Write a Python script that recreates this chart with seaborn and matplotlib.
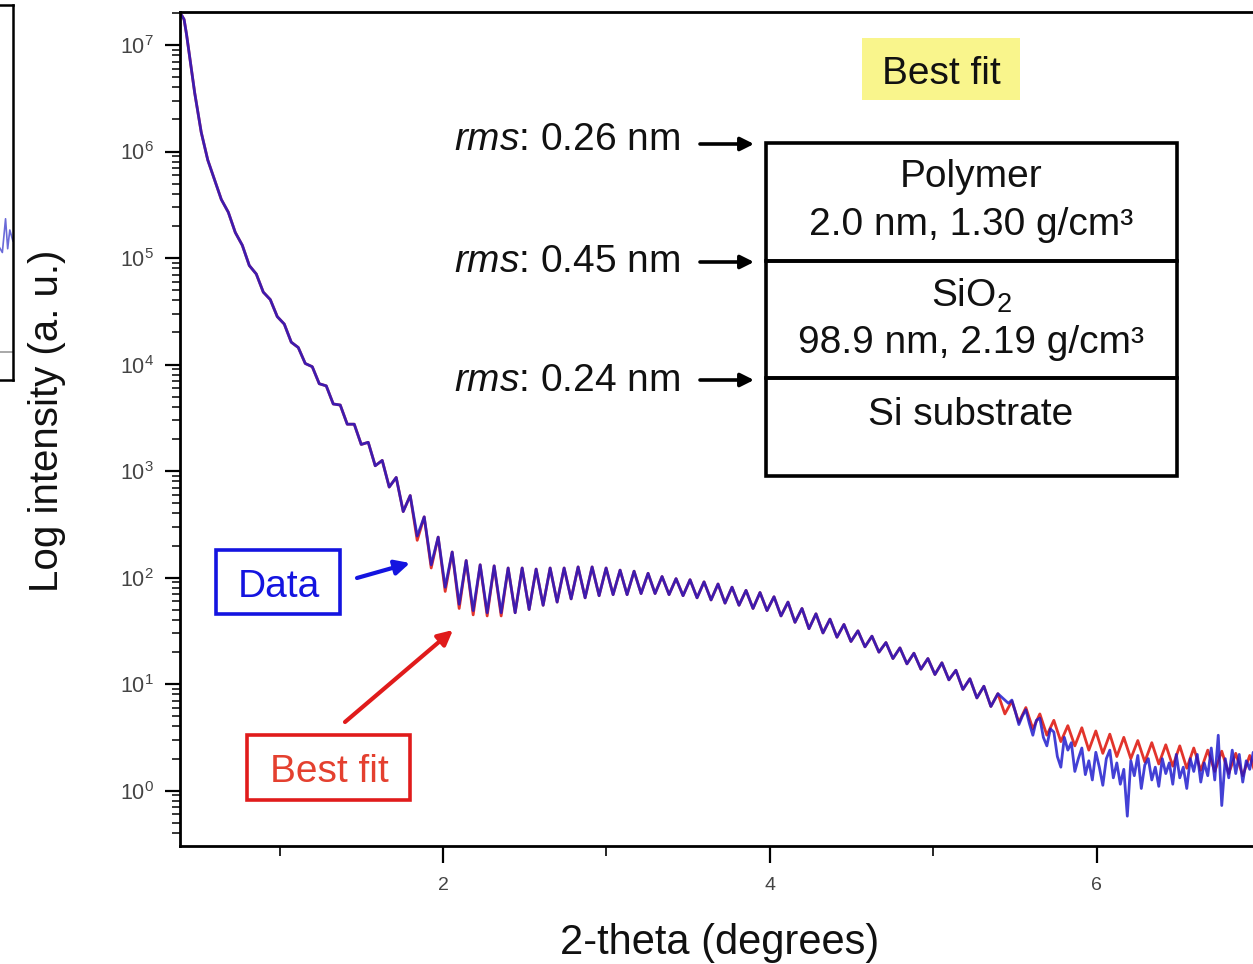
import numpy as np
import pandas as pd
import matplotlib
matplotlib.use("Agg")
import matplotlib.pyplot as plt
import seaborn as sns
from matplotlib.patches import Rectangle, FancyArrowPatch
from matplotlib.ticker import FixedLocator, LogLocator, FuncFormatter, NullFormatter

sns.set_style("ticks")
plt.rcParams["font.family"] = ["Liberation Sans", "DejaVu Sans"]
plt.rcParams["mathtext.fontset"] = "custom"
plt.rcParams["mathtext.rm"] = "Liberation Sans"
plt.rcParams["mathtext.it"] = "Liberation Sans:italic"

# ---- XRR curve: 2-theta (deg) vs log10 intensity ----
# steep total-reflection edge
lead_angle = [0.40, 0.415, 0.43, 0.45, 0.48, 0.52, 0.56]
lead_log = [7.28, 7.24, 7.10, 6.88, 6.55, 6.18, 5.92]

# Kiessig fringe extrema (alternating max / min) on an even angular grid
fringe_start, fringe_stop, fringe_count = 0.60, 6.98, 150
fit_fringe_log = [
    5.74, 5.55, 5.43, 5.24, 5.12, 4.93, 4.85, 4.68, 4.61, 4.45,
    4.38, 4.21, 4.16, 4.01, 3.98, 3.82, 3.80, 3.63, 3.62, 3.44,
    3.44, 3.25, 3.27, 3.05, 3.10, 2.85, 2.94, 2.62, 2.77, 2.35,
    2.57, 2.09, 2.38, 1.87, 2.24, 1.71, 2.16, 1.65, 2.12, 1.64,
    2.11, 1.64, 2.09, 1.67, 2.09, 1.70, 2.08, 1.74, 2.09, 1.77,
    2.09, 1.80, 2.10, 1.81, 2.10, 1.83, 2.09, 1.84, 2.07, 1.84,
    2.06, 1.85, 2.04, 1.85, 2.01, 1.84, 1.99, 1.83, 1.98, 1.81,
    1.96, 1.79, 1.94, 1.76, 1.91, 1.74, 1.88, 1.71, 1.86, 1.69,
    1.82, 1.64, 1.77, 1.58, 1.71, 1.52, 1.66, 1.48, 1.61, 1.44,
    1.56, 1.40, 1.50, 1.35, 1.45, 1.30, 1.39, 1.24, 1.34, 1.19,
    1.29, 1.14, 1.24, 1.09, 1.20, 1.04, 1.13, 0.95, 1.05, 0.87,
    0.98, 0.79, 0.91, 0.72, 0.84, 0.64, 0.78, 0.58, 0.72, 0.52,
    0.66, 0.46, 0.61, 0.42, 0.59, 0.38, 0.56, 0.35, 0.53, 0.32,
    0.50, 0.30, 0.47, 0.27, 0.45, 0.25, 0.43, 0.23, 0.42, 0.21,
    0.40, 0.19, 0.38, 0.18, 0.37, 0.16, 0.35, 0.14, 0.33, 0.12,
]
data_fringe_log = [
    5.74, 5.55, 5.43, 5.24, 5.12, 4.93, 4.85, 4.68, 4.61, 4.45,
    4.38, 4.21, 4.16, 4.01, 3.98, 3.82, 3.80, 3.63, 3.62, 3.44,
    3.44, 3.25, 3.27, 3.05, 3.10, 2.85, 2.94, 2.62, 2.77, 2.39,
    2.57, 2.12, 2.38, 1.91, 2.24, 1.75, 2.16, 1.69, 2.12, 1.67,
    2.11, 1.67, 2.09, 1.67, 2.09, 1.70, 2.08, 1.74, 2.09, 1.77,
    2.09, 1.80, 2.10, 1.81, 2.10, 1.83, 2.09, 1.84, 2.07, 1.84,
    2.06, 1.85, 2.04, 1.85, 2.01, 1.84, 1.99, 1.83, 1.98, 1.81,
    1.96, 1.79, 1.94, 1.76, 1.91, 1.74, 1.88, 1.71, 1.86, 1.69,
    1.82, 1.64, 1.77, 1.58, 1.71, 1.52, 1.66, 1.48, 1.61, 1.44,
    1.56, 1.40, 1.50, 1.35, 1.45, 1.30, 1.39, 1.24, 1.34, 1.19,
    1.29, 1.14, 1.24, 1.09, 1.20, 1.04, 1.13, 0.95, 1.05, 0.87,
    0.98, 0.79, 0.91,
]
# noisy high-angle part of the measurement (finer sampling)
tail_start, tail_stop = 5.46, 6.98
data_tail_log = [
    0.82, 0.85, 0.74, 0.62, 0.70, 0.76, 0.63, 0.52, 0.66, 0.68,
    0.50, 0.42, 0.58, 0.55, 0.32, 0.22, 0.50, 0.38, 0.45, 0.18,
    0.30, 0.40, 0.15, 0.28, 0.10, 0.36, 0.22, 0.05, 0.30, 0.38,
    0.12, 0.26, 0.06, 0.20, -0.24, 0.28, 0.14, 0.33, 0.02, 0.24,
    0.30, 0.10, 0.22, 0.04, 0.30, 0.16, 0.26, 0.06, 0.34, 0.12,
    0.22, 0.02, 0.30, 0.18, 0.34, 0.08, 0.26, 0.14, 0.40, 0.10,
    0.52, -0.14, 0.30, 0.12, 0.38, 0.16, 0.34, 0.08, 0.28, 0.20,
    0.36, 0.18,
]

# layer model annotations
rms_labels = ["0.26 nm", "0.45 nm", "0.24 nm"]
layer_lines = [
    ["Polymer", "2.0 nm, 1.30 g/cm³"],
    ["SiO$_2$", "98.9 nm, 2.19 g/cm³"],
    ["Si substrate"],
]
x_major = [2, 4, 6]
x_minor = [1, 3, 5]

# neighbouring panel fragment
side_x = [0.90, 0.93, 0.95, 0.965, 0.975, 0.985, 1.0]
side_y = [0.35, 0.36, 0.34, 0.43, 0.35, 0.40, 0.37]

fringe_angle = np.linspace(fringe_start, fringe_stop, fringe_count)
tail_angle = np.linspace(tail_start, tail_stop, len(data_tail_log))

fit_df = pd.DataFrame({
    "angle": lead_angle + list(fringe_angle),
    "intensity": 10.0 ** np.array(lead_log + fit_fringe_log),
})
data_df = pd.DataFrame({
    "angle": lead_angle + list(fringe_angle[:len(data_fringe_log)]) + list(tail_angle),
    "intensity": 10.0 ** np.array(lead_log + data_fringe_log + data_tail_log),
})

W, H = 1253, 964
fig = plt.figure(figsize=(W / 100, H / 100), dpi=100)
fig.patch.set_facecolor("white")


def fx(px):
    return px / W


def fy(py):
    return 1 - py / H


ax = fig.add_axes([fx(180), fy(846), fx(1260) - fx(180), fy(12) - fy(846)])
sns.lineplot(data=fit_df, x="angle", y="intensity", ax=ax, color="#e2342c",
             lw=2.0, estimator=None, sort=False)
sns.lineplot(data=data_df, x="angle", y="intensity", ax=ax, color="#1a16cc",
             lw=2.0, alpha=0.82, estimator=None, sort=False)

ax.set_yscale("log")
ax.set_xlim(0.39, 7.0)
ax.set_ylim(10 ** -0.52, 10 ** 7.31)

ax.xaxis.set_major_locator(FixedLocator(x_major))
ax.xaxis.set_minor_locator(FixedLocator(x_minor))
ax.xaxis.set_minor_formatter(NullFormatter())
ax.yaxis.set_major_locator(FixedLocator([10.0 ** e for e in range(0, 8)]))
ax.yaxis.set_major_formatter(FuncFormatter(lambda v, p: r"$10^{%d}$" % round(np.log10(v))))
ax.yaxis.set_minor_locator(LogLocator(base=10, subs=np.arange(2, 10), numticks=30))
ax.yaxis.set_minor_formatter(NullFormatter())

ax.tick_params(axis="both", which="major", direction="out", width=1.6,
               labelcolor="#444444", color="black")
ax.tick_params(axis="x", which="major", length=12, pad=10, labelsize=14)
ax.tick_params(axis="y", which="major", length=11, pad=8, labelsize=15.5)
ax.tick_params(axis="x", which="minor", direction="out", length=7, width=1.4)
ax.tick_params(axis="y", which="minor", direction="out", length=6, width=1.3)
for s in ax.spines.values():
    s.set_linewidth(2.0)
    s.set_color("black")

ax.set_xlabel("2-theta (degrees)", fontsize=30, color="#111111")
ax.set_ylabel("Log intensity (a. u.)", fontsize=29, color="#111111")
ax.xaxis.set_label_coords(0.5, -0.092)
ax.yaxis.set_label_coords(-0.106, 0.51)


# ---- annotations in figure pixel space ----
def rect(x0, y0, x1, y1, **kw):
    fig.patches.append(Rectangle((fx(x0), fy(y1)), fx(x1) - fx(x0), fy(y0) - fy(y1),
                                 transform=fig.transFigure, **kw))


def arrow(p0, p1, color, lw=2.6, scale=22):
    fig.patches.append(FancyArrowPatch((fx(p0[0]), fy(p0[1])), (fx(p1[0]), fy(p1[1])),
                                       transform=fig.transFigure, arrowstyle="-|>",
                                       mutation_scale=scale, lw=lw, color=color,
                                       shrinkA=0, shrinkB=0))


# yellow title tag
rect(862, 38, 1020, 100, facecolor="#f9f58c", edgecolor="none")
fig.text(fx(941), fy(84), "Best fit", ha="center", va="baseline", fontsize=28, color="#111111")

# roughness labels with arrows
rms_base = [150, 272, 391]
arrow_y = [144, 262, 380]
for lab, yb, ya in zip(rms_labels, rms_base, arrow_y):
    fig.text(fx(680), fy(yb), r"$\it{rms}$: " + lab, ha="right", va="baseline",
             fontsize=28, color="#111111")
    arrow((700, ya), (754, ya), "black", lw=2.6, scale=20)

# layer stack
layer_bounds = [(143, 261), (261, 378), (378, 476)]
for y0, y1 in layer_bounds:
    rect(766, y0, 1177, y1, facecolor="none", edgecolor="black", lw=2.6)
layer_baselines = [[187, 235], [307, 353], [425]]
for lines, bases in zip(layer_lines, layer_baselines):
    for t, b in zip(lines, bases):
        fig.text(fx(971), fy(b), t, ha="center", va="baseline", fontsize=28, color="#111111")

# series tags
rect(216, 550, 340, 614, facecolor="none", edgecolor="#1414e0", lw=2.6)
fig.text(fx(279), fy(597), "Data", ha="center", va="baseline", fontsize=28, color="#1414e0")
arrow((357, 578), (410, 563), "#1414e0", lw=3, scale=22)

rect(247, 735, 410, 800, facecolor="none", edgecolor="#e01b1b", lw=2.6)
fig.text(fx(329), fy(782), "Best fit", ha="center", va="baseline", fontsize=28, color="#e4402f")
arrow((345, 722), (453, 630), "#e01b1b", lw=3, scale=22)

# fragment of the neighbouring panel at the left edge
side = fig.add_axes([fx(-200), fy(380), fx(13) - fx(-200), fy(5) - fy(380)])
side.set_xlim(0, 1)
side.set_ylim(0, 1)
side.axhline(0.075, color="#9a9a9a", lw=1.2)
sns.lineplot(x=side_x, y=side_y, ax=side, color="#6a6ad8", lw=1.2, estimator=None, sort=False)
side.set_xticks([])
side.set_yticks([])
for s in side.spines.values():
    s.set_linewidth(1.8)
    s.set_color("black")

fig.savefig("out.png", dpi=100)
